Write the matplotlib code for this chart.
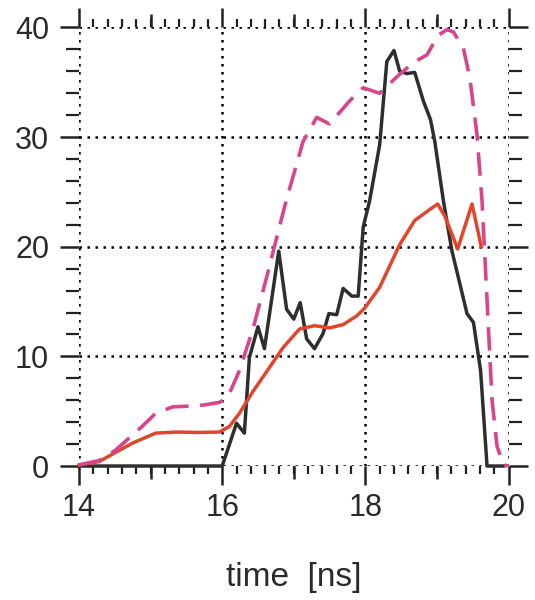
import numpy
import matplotlib
matplotlib.use('Agg')
from matplotlib import pyplot
from matplotlib.ticker import MultipleLocator, FixedLocator

# black (solid) curve
t_black = [14.0, 16.0, 16.20, 16.31, 16.38, 16.50, 16.59, 16.79, 16.90, 17.00,
           17.09, 17.18, 17.29, 17.41, 17.49, 17.60, 17.69, 17.81, 17.90, 17.97,
           18.06, 18.20, 18.30, 18.40, 18.48, 18.58, 18.69, 18.81, 18.91, 18.97,
           19.09, 19.21, 19.31, 19.42, 19.51, 19.61, 19.70, 19.93]
v_black = [0.0, 0.0, 3.9, 3.0, 9.9, 12.7, 10.7, 19.6, 14.3, 13.4,
           14.9, 11.6, 10.7, 12.1, 13.9, 13.8, 16.2, 15.5, 15.5, 21.8,
           24.2, 29.3, 36.9, 37.9, 36.0, 35.8, 35.9, 33.3, 31.6, 29.6,
           24.2, 19.6, 16.9, 13.9, 13.1, 8.7, 0.0, 0.0]

# red (solid, smooth) curve
t_red = [14.0, 14.28, 14.50, 14.75, 15.07, 15.36, 15.68, 15.96, 16.10, 16.24,
         16.43, 16.62, 16.85, 17.08, 17.29, 17.50, 17.69, 17.88, 17.99, 18.20,
         18.48, 18.69, 18.90, 19.01, 19.11, 19.29, 19.49, 19.62]
v_red = [0.1, 0.4, 1.2, 2.1, 3.0, 3.1, 3.06, 3.1, 3.6, 4.8,
         6.8, 8.6, 10.8, 12.5, 12.8, 12.6, 12.9, 13.7, 14.4, 16.3,
         20.2, 22.4, 23.4, 23.9, 22.8, 19.8, 23.9, 20.0]

# pink (dashed) curve
t_pink = [14.0, 14.28, 14.51, 14.88, 15.07, 15.31, 15.68, 15.96, 16.06, 16.10,
          16.24, 16.43, 16.62, 16.76, 16.87, 16.92, 17.13, 17.32, 17.50, 17.78,
          17.97, 18.20, 18.44, 18.67, 18.86, 19.02, 19.14, 19.23, 19.37, 19.46,
          19.56, 19.63, 19.70, 19.77, 19.84, 19.93, 20.0]
v_pink = [0.1, 0.5, 1.45, 3.6, 4.8, 5.4, 5.5, 5.8, 6.2, 6.6,
          8.7, 12.5, 17.2, 20.8, 23.6, 24.8, 29.6, 31.8, 31.2, 33.3,
          34.5, 34.0, 35.5, 36.8, 37.5, 39.3, 39.8, 39.6, 38.1, 35.4,
          30.2, 24.2, 15.1, 6.0, 1.8, 0.1, 0.0]

x_major = [14, 16, 18, 20]
x_mid = [15, 17, 19]
y_major = [0, 10, 20, 30, 40]

pyplot.rcParams['font.family'] = ['Liberation Sans', 'DejaVu Sans']

fig = pyplot.figure(figsize=(5.35, 6.0), dpi=100)
ax = fig.add_axes([0.1477, 0.2233, 0.9505 - 0.1477, 0.9542 - 0.2233])

# twin axis only for the medium ticks at odd ns (create first: twiny resets top ticks)
ax2 = ax.twiny()

ax.plot(t_black, v_black, color='#2e2e2e', lw=2.5, clip_on=False, zorder=3)
ax.plot(t_red, v_red, color='#e2452c', lw=2.5, clip_on=False, zorder=4)
ax.plot(t_pink, v_pink, color='#d8458c', lw=2.6, dashes=(6.5, 3.2),
        clip_on=False, zorder=5)

ax.set_xlim(14, 20)
ax.set_ylim(0, 40)
ax2.set_xlim(14, 20)

for a in (ax, ax2):
    for s in a.spines.values():
        s.set_visible(False)

ax.xaxis.set_major_locator(FixedLocator(x_major))
ax.yaxis.set_major_locator(FixedLocator(y_major))
ax.xaxis.set_minor_locator(MultipleLocator(0.2))
ax.yaxis.set_minor_locator(MultipleLocator(2))

ax.grid(True, which='major', color='black', lw=1.8, linestyle=(0, (1, 2.2)))

ax.tick_params(which='major', direction='out', length=13.5, width=1.8,
               top=True, bottom=True, left=True, right=True,
               labelsize=22, color='#222222', labelcolor='#2a2a2a')
ax.tick_params(axis='x', which='major', pad=6)
ax.tick_params(axis='y', which='major', pad=8)
ax.tick_params(axis='x', which='minor', direction='out', length=5.5,
               width=1.6, top=True, bottom=True, color='#222222')
ax.tick_params(axis='y', which='minor', direction='out', length=9.5,
               width=1.6, left=True, right=True, color='#222222')

ax2.xaxis.set_major_locator(FixedLocator(x_mid))
ax2.xaxis.set_minor_locator(FixedLocator([]))
ax2.tick_params(direction='out', length=9.5, width=1.8, top=True,
                bottom=True, labeltop=False, labelbottom=False,
                color='#222222')

ax.set_xlabel('time  [ns]', fontsize=24, labelpad=28, color='#2a2a2a')

fig.savefig('out.png', dpi=100)
